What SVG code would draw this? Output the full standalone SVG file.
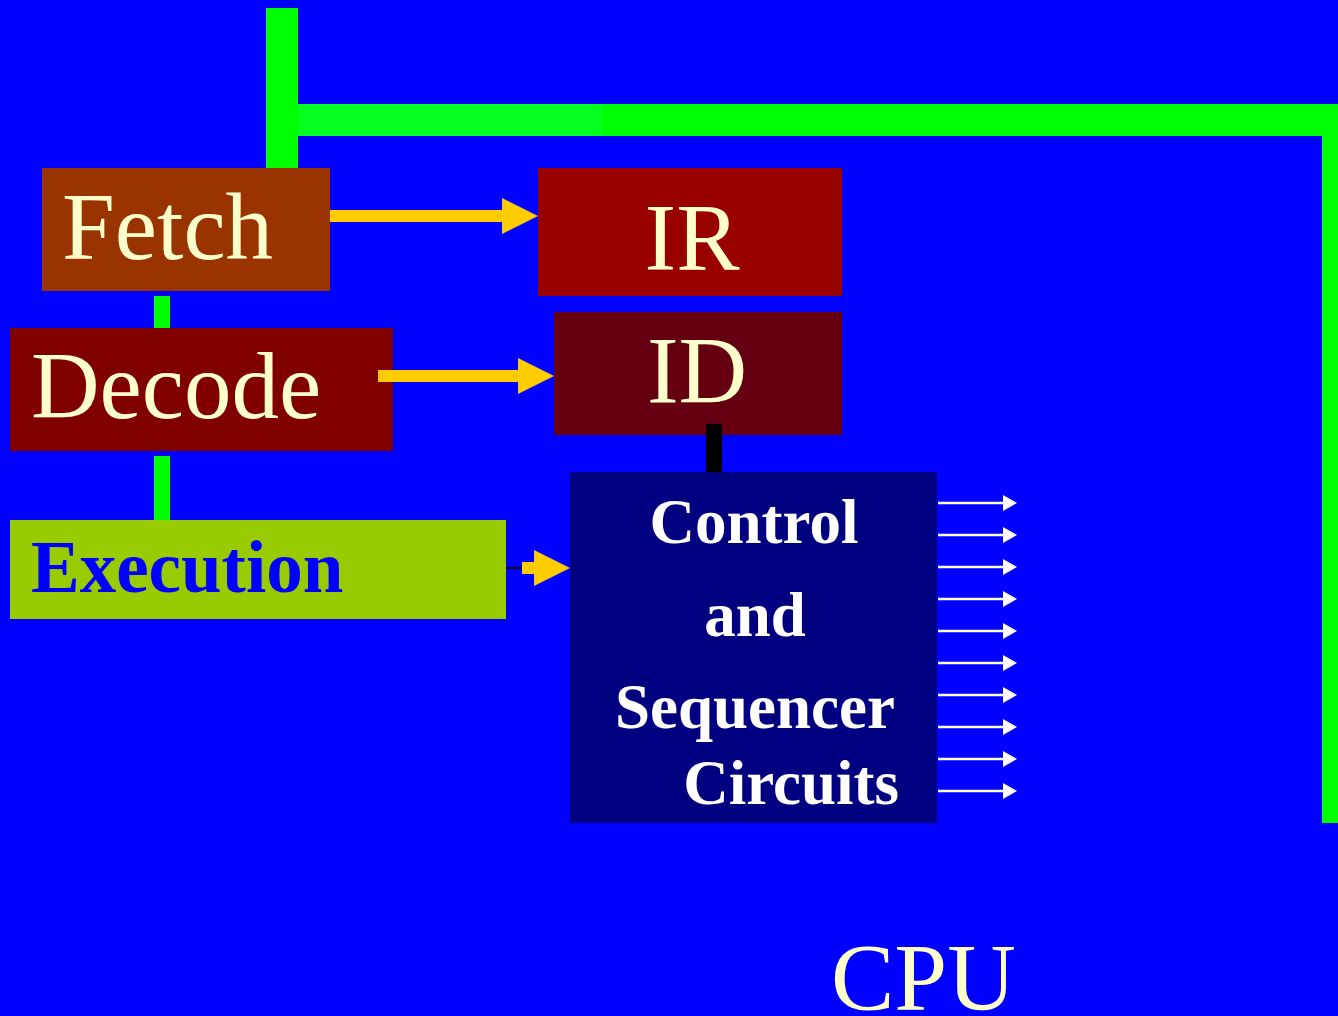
<svg xmlns="http://www.w3.org/2000/svg" width="1338" height="1016" viewBox="0 0 1338 1016">
  <defs>
    <style>
      .serif { font-family: "Liberation Serif", "Times New Roman", serif; }
      .big { font-size: 95px; fill: #FFFFCC; }
      .ctl { font-size: 63px; font-weight: bold; fill: #FFFFFF; }
      .bus { fill: #00FF00; }
      .yarrow { fill: #FFCC00; }
      .warrow { stroke: #FFFFFF; stroke-width: 2.5; fill: none; }
    </style>
    <marker id="wh" markerWidth="14" markerHeight="16" refX="0" refY="8" orient="auto" markerUnits="userSpaceOnUse">
      <polygon points="0,0 14,8 0,16" fill="#FFFFFF"/>
    </marker>
  </defs>
  <rect x="0" y="0" width="1338" height="1016" fill="#0000FF"/>

  <g id="bus">
    <rect class="bus" x="266" y="8" width="32" height="160"/>
    <rect x="298" y="104" width="304" height="32" fill="#05FF1E"/>
    <rect class="bus" x="602" y="104" width="736" height="32"/>
    <rect class="bus" x="1322" y="104" width="16" height="719"/>
    <rect class="bus" x="154" y="296" width="16" height="32"/>
    <rect class="bus" x="154" y="456" width="16" height="64"/>
  </g>

  <g id="fetch">
    <rect x="42" y="168" width="288" height="123" fill="#993300"/>
    <text class="serif big" x="62" y="259">Fetch</text>
  </g>
  <g id="ir">
    <rect x="538" y="168" width="304" height="128" fill="#990000"/>
    <text class="serif big" x="692" y="270" text-anchor="middle">IR</text>
  </g>
  <g id="decode">
    <rect x="10" y="328" width="383" height="123" fill="#800000"/>
    <text class="serif big" x="31" y="418">Decode</text>
  </g>
  <g id="id">
    <rect x="554" y="312" width="288" height="123" fill="#650012"/>
    <text class="serif big" x="697" y="403" text-anchor="middle">ID</text>
  </g>
  <g id="execution">
    <rect x="10" y="520" width="496" height="99" fill="#99CC00"/>
    <text class="serif" x="31" y="592" font-size="73" font-weight="bold" fill="#0000FF">Execution</text>
  </g>
  <g id="control">
    <rect x="570" y="472" width="367" height="351" fill="#000080"/>
    <text class="serif ctl" x="754" y="543" text-anchor="middle">Control</text>
    <text class="serif ctl" x="755" y="636" text-anchor="middle">and</text>
    <text class="serif ctl" x="755" y="728" text-anchor="middle">Sequencer</text>
    <text class="serif ctl" x="899" y="804" text-anchor="end">Circuits</text>
  </g>
  <g id="cpu">
    <text class="serif big" x="831" y="1010">CPU</text>
  </g>

  <g id="connectors">
    <rect x="706" y="424" width="16" height="48" fill="#000000"/>
    <line x1="506" y1="568" x2="522" y2="568" stroke="#000000" stroke-width="2"/>
    <polygon class="yarrow" points="330,210 502,210 502,198 538,216 502,234 502,222 330,222"/>
    <polygon class="yarrow" points="378,370 518,370 518,358 554,376 518,394 518,382 378,382"/>
    <polygon class="yarrow" points="522,562 534,562 534,550 570,568 534,586 534,574 522,574"/>
    <line class="warrow" x1="938" y1="503" x2="1003" y2="503" marker-end="url(#wh)"/>
    <line class="warrow" x1="938" y1="535" x2="1003" y2="535" marker-end="url(#wh)"/>
    <line class="warrow" x1="938" y1="567" x2="1003" y2="567" marker-end="url(#wh)"/>
    <line class="warrow" x1="938" y1="599" x2="1003" y2="599" marker-end="url(#wh)"/>
    <line class="warrow" x1="938" y1="631" x2="1003" y2="631" marker-end="url(#wh)"/>
    <line class="warrow" x1="938" y1="663" x2="1003" y2="663" marker-end="url(#wh)"/>
    <line class="warrow" x1="938" y1="695" x2="1003" y2="695" marker-end="url(#wh)"/>
    <line class="warrow" x1="938" y1="727" x2="1003" y2="727" marker-end="url(#wh)"/>
    <line class="warrow" x1="938" y1="759" x2="1003" y2="759" marker-end="url(#wh)"/>
    <line class="warrow" x1="938" y1="791" x2="1003" y2="791" marker-end="url(#wh)"/>
  </g>
</svg>
